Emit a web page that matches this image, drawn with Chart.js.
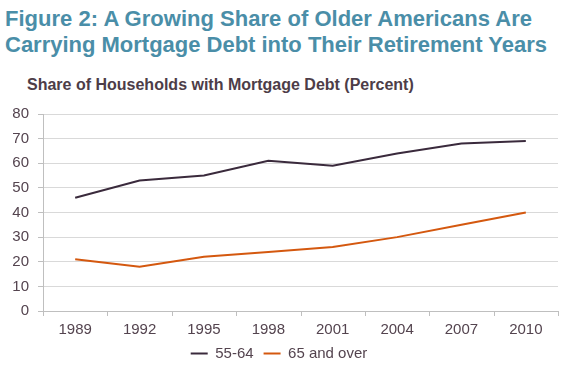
<!DOCTYPE html>
<html>
<head>
<meta charset="utf-8">
<script src="https://cdn.jsdelivr.net/npm/chart.js@4"></script>
<style>
  body { margin: 0; width: 576px; height: 367px; background: #fff; font-family: Arial, "Liberation Sans", sans-serif; position: relative; overflow: hidden; }
  .title { position: absolute; left: 5px; top: 6px; font-size: 22px; font-weight: bold; color: #4a8ea8; line-height: 25.5px; }
  .title span { display: block; white-space: nowrap; width: max-content; }
  .sub { position: absolute; left: 27px; top: 76px; font-size: 16px; font-weight: bold; color: #4d3d48; }
  .wrap { position: absolute; left: 0; top: 96px; width: 576px; height: 275px; }
</style>
</head>
<body>
<div class="title">
  <span data-right="532">Figure 2: A Growing Share of Older Americans Are</span>
  <span data-right="547">Carrying Mortgage Debt into Their Retirement Years</span>
</div>
<div class="sub">Share of Households with Mortgage Debt (Percent)</div>
<div class="wrap"><canvas id="chart"></canvas></div>
<script>
// stretch each title line to the width it has in the original figure
document.querySelectorAll('.title span').forEach(el => {
  const box = el.getBoundingClientRect();
  const target = +el.dataset.right - box.left;
  const n = el.textContent.length;
  el.style.letterSpacing = ((target - box.width) / n) + 'px';
});

const years = ['1989', '1992', '1995', '1998', '2001', '2004', '2007', '2010'];
const age55to64 = [46, 53, 55, 61, 59, 64, 68, 69];
const age65plus = [21, 18, 22, 24, 26, 30, 35, 40];
const yTicks = [0, 10, 20, 30, 40, 50, 60, 70, 80];

const textColor = '#54444f';
const fontFamily = 'Arial, "Liberation Sans", sans-serif';

new Chart(document.getElementById('chart'), {
  type: 'line',
  data: {
    labels: years,
    datasets: [
      {
        label: '55-64',
        data: age55to64,
        borderColor: '#3a2a3c',
        backgroundColor: '#3a2a3c',
        borderWidth: 2,
        pointRadius: 0,
        tension: 0
      },
      {
        label: '65 and over',
        data: age65plus,
        borderColor: '#d4580f',
        backgroundColor: '#d4580f',
        borderWidth: 2,
        pointRadius: 0,
        tension: 0
      }
    ]
  },
  options: {
    responsive: true,
    maintainAspectRatio: false,
    animation: false,
    layout: { padding: { left: 0, right: 18, top: 2, bottom: 0 } },
    plugins: {
      tooltip: { enabled: false },
      legend: {
        position: 'bottom',
        labels: {
          usePointStyle: true,
          pointStyle: 'line',
          pointStyleWidth: 17,
          padding: 10,
          color: textColor,
          font: { family: fontFamily, size: 15 }
        }
      }
    },
    scales: {
      x: {
        offset: true,
        afterFit: axis => { axis.height = 25; },
        grid: { display: false },
        border: { color: '#bfbfbf' },
        ticks: { color: textColor, padding: 2, font: { family: fontFamily, size: 15 } }
      },
      y: {
        min: 0,
        max: 80,
        afterBuildTicks: axis => { axis.ticks = yTicks.map(v => ({ value: v })); },
        afterFit: axis => { axis.width = 43; },
        grid: { color: '#d9d9d9', tickLength: 5, drawTicks: true, tickColor: '#bfbfbf' },
        border: { color: '#bfbfbf' },
        ticks: { color: textColor, padding: 9, font: { family: fontFamily, size: 15 } }
      }
    }
  },
  plugins: [{
    id: 'xgridTicks',
    afterDraw(chart) {
      // small tick marks between categories below the x axis
      const { ctx, scales: { x, y } } = chart;
      const step = (x.right - x.left) / years.length;
      ctx.save();
      ctx.strokeStyle = '#bfbfbf';
      ctx.lineWidth = 1;
      for (let i = 0; i <= years.length; i++) {
        const px = Math.round(x.left + i * step) + 0.5;
        ctx.beginPath();
        ctx.moveTo(px, y.bottom);
        ctx.lineTo(px, y.bottom + 5);
        ctx.stroke();
      }
      ctx.restore();
    }
  }]
});
</script>
</body>
</html>
